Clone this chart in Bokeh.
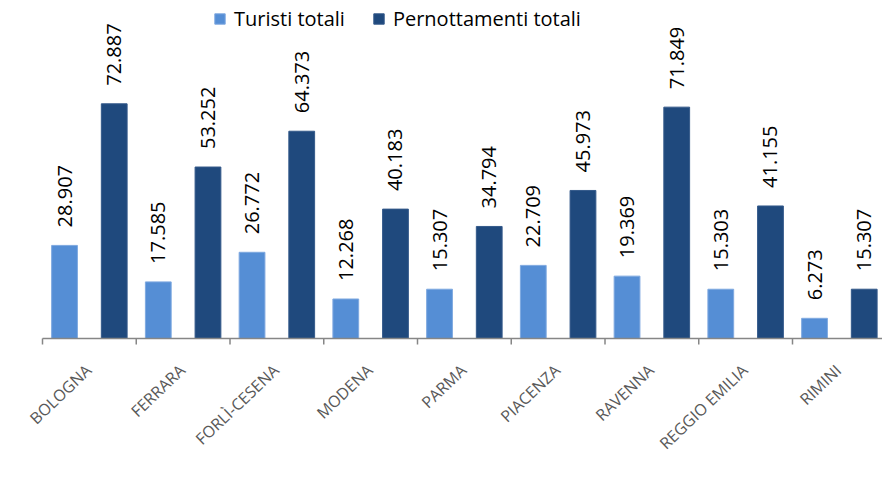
from bokeh.plotting import figure
from bokeh.models import ColumnDataSource, Legend, LegendItem, Range1d
from bokeh.core.properties import value
from bokeh.embed import file_html
from bokeh.resources import INLINE

categories = ["BOLOGNA", "FERRARA", "FORLÌ-CESENA", "MODENA", "PARMA",
              "PIACENZA", "RAVENNA", "REGGIO EMILIA", "RIMINI"]
turisti = [28907, 17585, 26772, 12268, 15307, 22709, 19369, 15303, 6273]
pernottamenti = [72887, 53252, 64373, 40183, 34794, 45973, 71849, 41155, 15307]
series_names = ["Turisti totali", "Pernottamenti totali"]

FONT = "Open Sans"
LIGHT = "#558ED5"
DARK = "#1F497D"
AXIS = "#868686"

def fmt(v):
    return f"{v:,}".replace(",", ".")

n = len(categories)
idx = list(range(n))
src_t = ColumnDataSource(dict(x=[i + 0.235 for i in idx], top=turisti,
                              label=[fmt(v) for v in turisti]))
src_p = ColumnDataSource(dict(x=[i + 0.765 for i in idx], top=pernottamenti,
                              label=[fmt(v) for v in pernottamenti]))
src_c = ColumnDataSource(dict(x=[i + 0.5 for i in idx], y=[0] * n, name=categories))
src_tick = ColumnDataSource(dict(x=list(range(n + 1)), y=[0] * (n + 1)))

p = figure(width=882, height=479, output_backend="svg", toolbar_location=None,
           x_range=Range1d(-0.448, 8.96), y_range=Range1d(-43789, 104969),
           min_border_left=0, min_border_right=0, min_border_top=0,
           min_border_bottom=0)
p.outline_line_color = None
p.xgrid.visible = False
p.ygrid.visible = False
p.yaxis.visible = False
p.xaxis.visible = False

r1 = p.vbar(x="x", top="top", width=0.275, source=src_t, fill_color=LIGHT,
            line_color="#7FA9E0", line_width=1)
r2 = p.vbar(x="x", top="top", width=0.275, source=src_p, fill_color=DARK,
            line_color="#34598A", line_width=1)

for src in (src_t, src_p):
    p.text(x="x", y="top", text="label", source=src, angle=1.5708,
           text_align="left", text_baseline="middle", y_offset=-18,
           text_font=value(FONT), text_font_size="20px", text_color="#000000")

# category axis: baseline line, boundary ticks, rotated labels
p.segment(x0=[0], y0=[0], x1=[n], y1=[0], line_color=AXIS, line_width=1.5)
p.ray(x="x", y="y", source=src_tick, length=6, length_units="screen",
      angle=-1.5708, line_color=AXIS, line_width=1.5)
p.text(x="x", y="y", text="name", source=src_c, angle=0.76,
       text_align="right", text_baseline="middle", y_offset=29, x_offset=-1,
       text_font=value(FONT), text_font_size="16px", text_color="#595959")

legend = Legend(items=[LegendItem(label=series_names[0], renderers=[r1]),
                       LegendItem(label=series_names[1], renderers=[r2])],
                orientation="horizontal", location=(213, 447),
                border_line_color=None, background_fill_alpha=0,
                glyph_width=13, glyph_height=13, label_height=22,
                label_standoff=8, spacing=27, padding=0, margin=0,
                label_text_font=FONT, label_text_font_size="20px",
                label_text_color="#000000")
p.add_layout(legend)

open("out.html", "w").write(file_html(p, INLINE))
